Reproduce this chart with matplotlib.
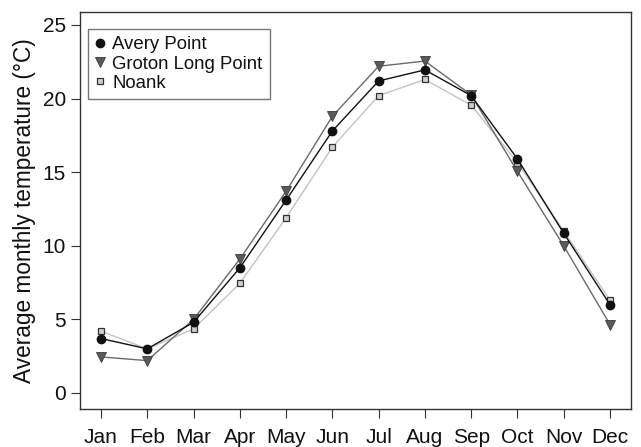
import matplotlib
matplotlib.use("Agg")
import matplotlib.pyplot as plt
from matplotlib.lines import Line2D

months = ["Jan", "Feb", "Mar", "Apr", "May", "Jun", "Jul", "Aug", "Sep", "Oct", "Nov", "Dec"]
avery = [3.7, 3.0, 4.8, 8.5, 13.1, 17.8, 21.2, 21.95, 20.2, 15.9, 10.85, 6.0]
groton = [2.45, 2.2, 5.0, 9.1, 13.7, 18.8, 22.2, 22.55, 20.25, 15.05, 10.0, 4.65]
noank = [4.2, 3.0, 4.35, 7.45, 11.9, 16.7, 20.2, 21.3, 19.55, 15.65, 11.0, 6.3]

plt.rcParams['font.family'] = ['Liberation Sans', 'DejaVu Sans']
W, H = 641, 447
fig = plt.figure(figsize=(W / 100, H / 100), dpi=100)
L, R, T, B = 80, 631, 12, 409
ax = fig.add_axes([L / W, (H - B) / H, (R - L) / W, (B - T) / H])
x = list(range(len(months)))

ax.plot(x, noank, color="#c4c4c4", lw=1.0, marker="s", ms=4.8, mfc="#cfcfcf", mec="#333333", mew=0.9, zorder=2)
ax.plot(x, groton, color="#6a6a6a", lw=1.0, marker="v", ms=7, mfc="#5a5a5a", mec="#3a3a3a", mew=0.6, zorder=3)
ax.plot(x, avery, color="#111111", lw=1.0, marker="o", ms=6, mfc="#111111", mec="#111111", zorder=4)

# y: 0 at px 393, 25 at px 25 ; x: Jan at 101, Dec at 610
ppu = (393 - 25) / 25
ax.set_ylim(-(B - 393) / ppu, (393 - T) / ppu)
ppx = (610 - 101) / 11
ax.set_xlim(-(101 - L) / ppx, (R - 101) / ppx)
ax.set_xticks(x)
ax.set_xticklabels(months)
ax.set_yticks([0, 5, 10, 15, 20, 25])
ax.tick_params(axis='both', direction='out', length=6.5, width=0.8, color="#333333", labelsize=15, labelcolor="#111111")
ax.tick_params(axis='x', pad=7.5)
ax.tick_params(axis='y', pad=3.5)
for s in ax.spines.values():
    s.set_color("#333333")
    s.set_linewidth(1.0)
ax.set_ylabel("Average monthly temperature (°C)", fontsize=16.3, labelpad=5, color="#111111")

handles = [
    Line2D([], [], ls="none", marker="o", ms=6, mfc="#111111", mec="#111111"),
    Line2D([], [], ls="none", marker="v", ms=7, mfc="#5a5a5a", mec="#3a3a3a", mew=0.6),
    Line2D([], [], ls="none", marker="s", ms=4.8, mfc="#cfcfcf", mec="#333333", mew=0.9),
]
leg = ax.legend(handles, ["Avery Point", "Groton Long Point", "Noank"], loc="upper left",
                bbox_to_anchor=((88 - L) / (R - L), (B - 29) / (B - T)), fontsize=13.4, frameon=True,
                fancybox=False, handlelength=0.5, handletextpad=0.4, borderpad=0.4, labelspacing=0.12,
                borderaxespad=0.0)
leg.get_frame().set_edgecolor("#555555")
leg.get_frame().set_linewidth(1.0)
for t in leg.get_texts():
    t.set_color("#111111")

fig.savefig("out.png", dpi=100)
